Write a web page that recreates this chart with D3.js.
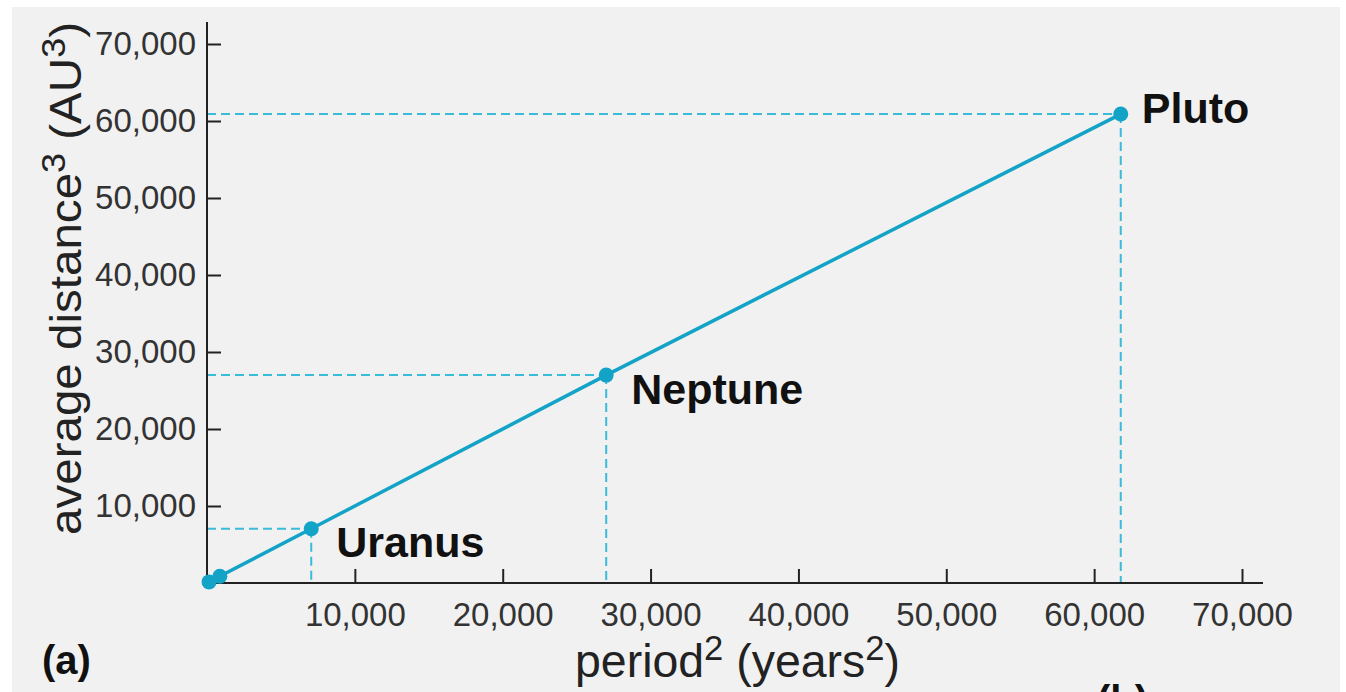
<!DOCTYPE html>
<html>
<head>
<meta charset="utf-8">
<script src="https://cdn.jsdelivr.net/npm/d3@7"></script>
<style>
    body { margin: 0; background: #ffffff; }
    #wrapper { width: 1346px; height: 692px; overflow: hidden; }
    text { font-family: "Liberation Sans", Arial, sans-serif; }
</style>
</head>
<body>
<div id="wrapper"></div>
<script>
// planets plotted: period^2 (years^2) against average distance^3 (AU^3)
const planets = ["Jupiter", "Saturn", "Uranus", "Neptune", "Pluto"];
const periodSq = [140, 868, 7050, 27000, 61800];
const distanceCubed = [140, 868, 7050, 27000, 60900];
const labelled = [false, false, true, true, true];

const xTicks = [10000, 20000, 30000, 40000, 50000, 60000, 70000];
const yTicks = [10000, 20000, 30000, 40000, 50000, 60000, 70000];

function buildPlot() {
    const data = planets.map((name, i) => ({
        name: name,
        period: periodSq[i],
        distance: distanceCubed[i],
        label: labelled[i]
    }));

    const xAccessor = (d) => d.period;
    const yAccessor = (d) => d.distance;

    var dimension = {
        width: 1346,
        height: 692,
        margin: {
            top: 44,
            left: 207,
            bottom: 109,
            right: 104
        }
    };
    dimension.boundedWidth = dimension.width - dimension.margin.left - dimension.margin.right;
    dimension.boundedHeight = dimension.height - dimension.margin.top - dimension.margin.bottom;

    const svg = d3.select("#wrapper").append("svg")
        .attr("width", dimension.width)
        .attr("height", dimension.height);

    // grey page background
    svg.append("rect")
        .attr("x", 12)
        .attr("y", 7)
        .attr("width", 1328)
        .attr("height", 700)
        .attr("fill", "#f1f1f1");

    const xScaler = d3.scaleLinear()
        .domain([0, 70000])
        .range([dimension.margin.left, dimension.margin.left + dimension.boundedWidth]);

    const yScaler = d3.scaleLinear()
        .domain([0, 70000])
        .range([dimension.margin.top + dimension.boundedHeight, dimension.margin.top]);

    const x0 = xScaler(0);
    const y0 = yScaler(0);

    // dashed guide lines
    const guides = svg.append("g")
        .attr("stroke", "#3bbad9")
        .attr("stroke-width", 2)
        .attr("stroke-dasharray", "9,5")
        .attr("fill", "none");

    guides.selectAll(".hguide")
        .data(data.filter(d => d.label))
        .join("line")
        .attr("x1", x0)
        .attr("x2", d => xScaler(xAccessor(d)))
        .attr("y1", d => yScaler(yAccessor(d)))
        .attr("y2", d => yScaler(yAccessor(d)));

    guides.selectAll(".vguide")
        .data(data.filter(d => d.label))
        .join("line")
        .attr("x1", d => xScaler(xAccessor(d)))
        .attr("x2", d => xScaler(xAccessor(d)))
        .attr("y1", d => yScaler(yAccessor(d)))
        .attr("y2", y0);

    // axes
    var x_axis = d3.axisBottom(xScaler)
        .tickValues(xTicks)
        .tickSize(-14)
        .tickPadding(20)
        .tickFormat(d3.format(","));

    var y_axis = d3.axisLeft(yScaler)
        .tickValues(yTicks)
        .tickSize(-14)
        .tickPadding(11)
        .tickFormat(d3.format(","));

    const gx = svg.append("g")
        .attr("transform", "translate(0," + y0 + ")")
        .call(x_axis);
    gx.select(".domain").remove();
    gx.append("line")
        .attr("x1", x0 - 1)
        .attr("x2", 1263)
        .attr("stroke", "#222")
        .attr("stroke-width", 2);

    const gy = svg.append("g")
        .attr("transform", "translate(" + x0 + ",0)")
        .call(y_axis);
    gy.select(".domain").remove();
    gy.append("line")
        .attr("y1", 22)
        .attr("y2", y0 + 1)
        .attr("stroke", "#222")
        .attr("stroke-width", 2);

    svg.selectAll(".tick line")
        .attr("stroke", "#222")
        .attr("stroke-width", 2);
    svg.selectAll(".tick text")
        .attr("font-size", 33)
        .attr("font-family", "Liberation Sans, Arial, sans-serif")
        .attr("fill", "#333");

    // line through the planets
    var lineGenerator = d3.line()
        .x(d => xScaler(xAccessor(d)))
        .y(d => yScaler(yAccessor(d)));

    svg.append("path")
        .attr("d", lineGenerator(data))
        .attr("fill", "none")
        .attr("stroke", "#12a3c7")
        .attr("stroke-width", 3.5);

    svg.selectAll(".dot")
        .data(data)
        .join("circle")
        .attr("cx", d => xScaler(xAccessor(d)))
        .attr("cy", d => yScaler(yAccessor(d)))
        .attr("r", 7.5)
        .attr("fill", "#12a3c7");

    // planet names
    const offsets = { Uranus: [25, 28], Neptune: [25, 29], Pluto: [21, 9] };
    svg.selectAll(".name")
        .data(data.filter(d => d.label))
        .join("text")
        .attr("x", d => xScaler(xAccessor(d)) + offsets[d.name][0])
        .attr("y", d => yScaler(yAccessor(d)) + offsets[d.name][1])
        .attr("font-size", 43)
        .attr("font-weight", "bold")
        .attr("fill", "#111")
        .text(d => d.name);

    // x axis title
    const xTitle = svg.append("text")
        .attr("x", 575)
        .attr("y", 677)
        .attr("font-size", 47)
        .attr("fill", "#222")
        .attr("textLength", 325)
        .attr("lengthAdjust", "spacingAndGlyphs");
    xTitle.append("tspan").text("period");
    xTitle.append("tspan").attr("dy", -17).attr("font-size", 35).text("2");
    xTitle.append("tspan").attr("dy", 17).text(" (years");
    xTitle.append("tspan").attr("dy", -17).attr("font-size", 35).text("2");
    xTitle.append("tspan").attr("dy", 17).text(")");

    // y axis title
    const yTitle = svg.append("text")
        .attr("transform", "translate(81,535) rotate(-90)")
        .attr("font-size", 45)
        .attr("fill", "#222")
        .attr("textLength", 513)
        .attr("lengthAdjust", "spacingAndGlyphs");
    yTitle.append("tspan").text("average distance");
    yTitle.append("tspan").attr("dy", -16).attr("font-size", 34).text("3");
    yTitle.append("tspan").attr("dy", 16).text(" (AU");
    yTitle.append("tspan").attr("dy", -16).attr("font-size", 34).text("3");
    yTitle.append("tspan").attr("dy", 16).text(")");

    // panel letters
    svg.append("text")
        .attr("x", 42)
        .attr("y", 674)
        .attr("font-size", 40)
        .attr("font-weight", "bold")
        .attr("fill", "#111")
        .text("(a)");

    // the next panel's letter, only its top shows at the bottom edge
    svg.append("text")
        .attr("x", 1097)
        .attr("y", 714)
        .attr("font-size", 40)
        .attr("font-weight", "bold")
        .attr("fill", "#111")
        .text("(b)");
}

buildPlot();
</script>
</body>
</html>
